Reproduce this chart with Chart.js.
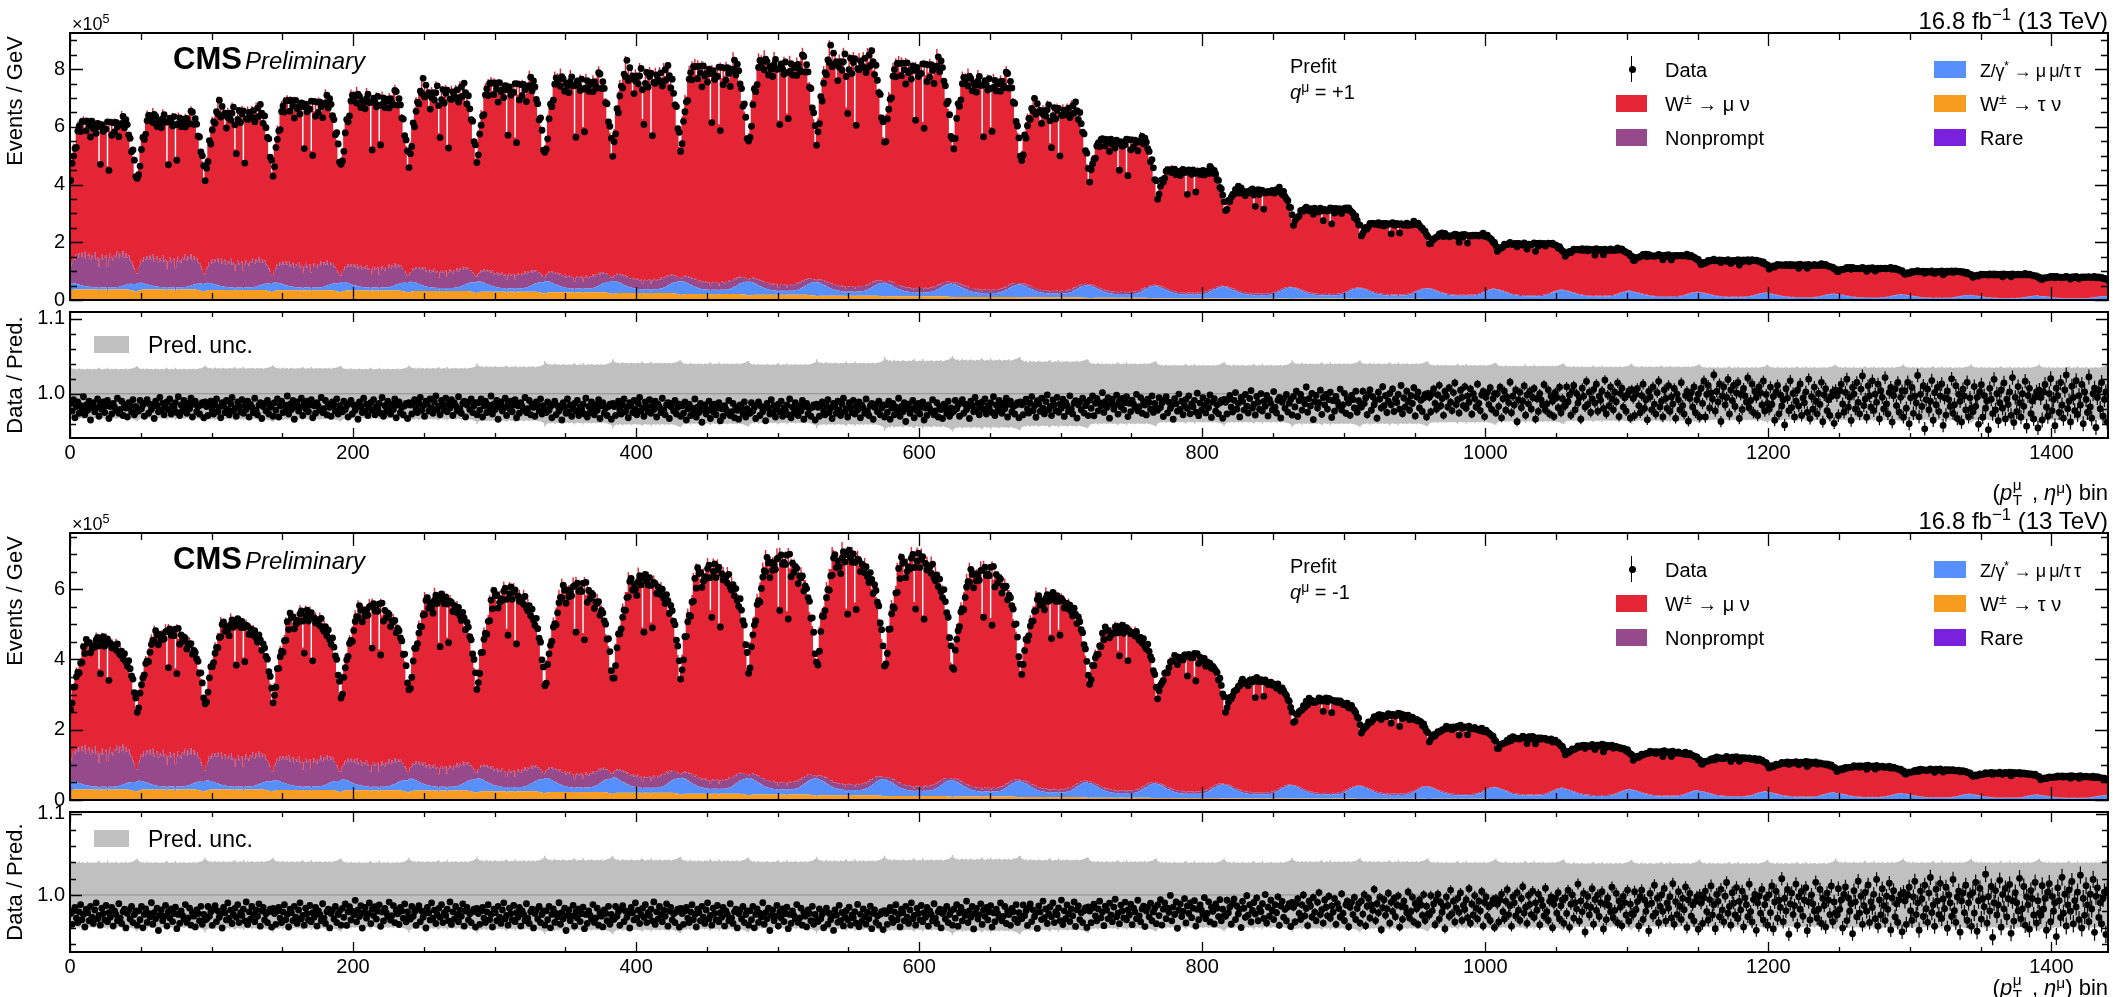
<!DOCTYPE html>
<html>
<head>
<meta charset="utf-8">
<title>Prefit unrolled (pT, eta) distributions</title>
<script src="https://cdn.jsdelivr.net/npm/chart.js@4.4.1/dist/chart.umd.min.js"></script>
<style>
  body { margin: 0; width: 2113px; height: 997px; background: #fff; position: relative; overflow: hidden;
         font-family: "Liberation Sans", Arial, Helvetica, sans-serif; }
  canvas { position: absolute; left: 0; }
  .t { position: absolute; white-space: nowrap; line-height: 1; color: #000; }
  .t sup { font-size: 0.7em; position: relative; top: -0.5em; vertical-align: baseline; line-height: 0; }
  .ud { display: inline-block; position: relative; width: 0.62em; height: 1em; vertical-align: baseline; }
  .ud .u, .ud .d { position: absolute; left: 0.04em; font-size: 0.7em; }
  .ud .u { top: -0.07em; }
  .ud .d { top: 0.9em; }
  .rot { position: absolute; white-space: nowrap; line-height: 1; transform: translate(-50%, -50%) rotate(-90deg); }
  .box { position: absolute; }
</style>
</head>
<body>
<canvas id="mainPlus" width="2113" height="325" style="top:0px"></canvas>
<canvas id="ratioPlus" width="2113" height="185" style="top:285px"></canvas>
<canvas id="mainMinus" width="2113" height="325" style="top:500px"></canvas>
<canvas id="ratioMinus" width="2113" height="199" style="top:785px"></canvas>
<script>
// 30 pT bins x 48 eta bins, unrolled pT-major into 1440 bins
const nPt = 30;
const nEta = 48;
const nBins = nPt * nEta;

const xMajor = [0, 200, 400, 600, 800, 1000, 1200, 1400];
const mainTicksPlus = [0, 2, 4, 6, 8];
const mainTicksMinus = [0, 2, 4, 6];
const ratioTicks = [1.0, 1.1];
const unityRatio = 1.0;

// eta profile inside one pT bin (relative to the plateau)
const etaShapePlus = [0.70,0.77,0.83,0.88,0.92, 0.95,0.98,1.00,1.02,1.03, 1.04,1.03,1.01,0.99,0.98, 0.99,1.00,0.99,1.00,1.01,
  0.99,0.79,0.98,1.00,0.99, 0.99,1.00,0.78,0.98,1.00, 1.01,0.99,1.00,0.99,0.98, 1.00,1.02,1.03,1.04,1.03,
  1.00,0.97,0.93,0.89,0.85, 0.80,0.75,0.69];
const etaShapeMinus = [0.56,0.63,0.69,0.74,0.78, 0.80,0.82,0.85,0.88,0.93, 0.97,1.00,1.00,0.98,0.97, 0.96,0.97,0.98,1.00,1.00,
  1.01,0.80,1.00,1.01,1.00, 0.99,1.00,0.79,0.99,0.98, 0.98,0.97,0.96,0.96,0.94, 0.93,0.93,0.92,0.91,0.89,
  0.88,0.86,0.83,0.79,0.75, 0.70,0.64,0.57];
const nonpromptEta = [0.35,0.55,0.62,0.80,0.74, 0.92,0.84,0.98,0.88,1.02, 0.90,1.08,0.86,0.97,1.04, 0.85,0.99,0.92,1.10,0.88,
  0.95,0.70,0.90,1.03,0.87, 0.94,1.00,0.72,0.89,1.06, 0.93,0.85,1.02,0.96,1.12, 0.90,1.05,0.94,1.08,0.86,
  0.98,0.84,0.90,0.74,0.70, 0.58,0.48,0.36];
const zEta = [1.00,0.98,0.94,0.89,0.84, 0.79,0.73,0.68,0.63,0.58, 0.53,0.49,0.45,0.42,0.39, 0.37,0.35,0.33,0.32,0.31,
  0.30,0.27,0.30,0.30,0.30, 0.30,0.30,0.27,0.30,0.30, 0.30,0.30,0.31,0.33,0.35, 0.38,0.42,0.47,0.53,0.59,
  0.65,0.71,0.77,0.83,0.88, 0.92,0.96,0.99];
const tauEta = [0.82,0.90,0.95,0.98,1.00, 1.00,1.00,1.00,1.00,1.00, 1.00,1.00,1.00,1.00,1.00, 1.00,1.00,1.00,1.00,1.00,
  1.00,0.85,1.00,1.00,1.00, 1.00,1.00,0.85,1.00,1.00, 1.00,1.00,1.00,1.00,1.00, 1.00,1.00,1.00,1.00,1.00,
  1.00,1.00,0.98,0.95,0.92, 0.88,0.84,0.78];
const bandEta = [1.12,1.05,1.02,1.00,1.02, 0.98,1.00,1.03,0.99,1.00, 1.01,0.98,1.00,1.02,0.99, 1.00,0.98,1.01,1.00,0.99,
  1.02,1.05,1.00,0.98,1.00, 1.01,0.99,1.05,1.00,0.98, 1.01,1.00,0.99,1.02,1.00, 0.98,1.00,1.01,0.99,1.00,
  1.02,0.98,1.00,1.01,1.02, 1.03,1.05,1.08];

// bin-to-bin scatter inside a pT bin, in units of the local spread
const residA = [0.6,-0.4,1.1,-1.3,0.2, 0.8,-0.7,0.3,-0.1,1.5, -0.9,0.4,-0.3,0.9,-1.6, 0.1,0.7,-0.5,0.0,1.2,
  -1.1,0.5,-0.2,0.8,-0.6, 0.3,1.0,-1.4,0.2,-0.8, 0.6,0.1,-0.3,1.3,-0.7, -0.2,0.9,-1.0,0.4,0.0,
  -1.2,0.7,0.3,-0.5,1.1, -0.9,0.2,-0.4];
const residB = [-0.5,0.9,-0.2,0.3,-1.2, 0.6,1.0,-0.8,0.4,-0.3, 0.1,-1.5,0.8,0.2,-0.6, 1.3,-0.4,0.5,-1.0,0.0,
  0.7,-0.3,1.1,-0.9,0.2, -0.1,0.6,-0.7,1.4,-1.1, 0.3,-0.5,0.9,0.0,-0.8, 0.5,-0.2,1.2,-1.3,0.4,
  0.8,-0.6,0.1,-0.9,0.3, 0.6,-1.4,0.7];
const residC = [0.2,-1.0,0.5,0.9,-0.3, -0.8,0.4,1.2,-0.5,0.1, -1.3,0.7,0.3,-0.6,1.0, -0.2,-0.9,0.6,1.4,-0.4,
  0.0,-1.1,0.8,0.2,-0.5, 1.1,-0.7,0.3,-0.2,0.9, -1.2,0.5,0.1,-0.6,1.3, -0.3,-0.9,0.4,0.7,-1.4,
  0.2,0.6,-0.4,1.0,-0.8, 0.1,0.5,-1.1];

// q = +1, per pT bin (x 10^5 events/GeV)
const totalPlus = [6.1,6.3,6.5,6.8,7.0, 7.2,7.4,7.6,7.8,8.0, 8.2,8.3,8.1,7.6,6.6, 5.5,4.5,3.8,3.15,2.65,
  2.25,1.95,1.75,1.55,1.37, 1.22,1.1,0.99,0.89,0.8];
const depthPlus = [1,1,1,1,1, 1,1,1,1,1, 1,1,1,1,0.9, 0.8,0.7,0.62,0.56,0.5, 0.46,0.43,0.4,0.38,0.36, 0.35,0.34,0.33,0.32,0.31];
const wigglePlus = 0.035;
const nonpromptPlus = [1.1,1.0,0.9,0.8,0.7, 0.6,0.5,0.42,0.34,0.27, 0.22,0.18,0.15,0.12,0.1, 0.08,0.07,0.06,0.05,0.045,
  0.04,0.035,0.032,0.028,0.025, 0.022,0.02,0.018,0.016,0.015];
const zPlus = [0.26,0.27,0.28,0.3,0.33, 0.36,0.39,0.42,0.45,0.47, 0.48,0.48,0.47,0.46,0.45, 0.44,0.42,0.4,0.38,0.37,
  0.36,0.33,0.3,0.26,0.23, 0.2,0.18,0.16,0.14,0.12];
const tauPlus = [0.34,0.34,0.33,0.32,0.31, 0.29,0.27,0.25,0.22,0.19, 0.16,0.13,0.11,0.09,0.075, 0.06,0.05,0.045,0.04,0.035,
  0.03,0.027,0.024,0.021,0.019, 0.017,0.015,0.013,0.012,0.011];
const rarePlus = [0.02,0.02,0.02,0.02,0.02, 0.02,0.02,0.02,0.02,0.02, 0.02,0.02,0.02,0.018,0.016, 0.014,0.012,0.01,0.009,0.008,
  0.007,0.006,0.006,0.005,0.005, 0.004,0.004,0.004,0.003,0.003];
const ratioLevelPlus = [0.981,0.982,0.981,0.982,0.981, 0.983,0.982,0.980,0.981,0.978, 0.979,0.980,0.979,0.982,0.983,
  0.985,0.984,0.986,0.988,0.990, 0.992,0.990,0.993,0.990,0.995, 0.990,0.993,0.990,0.988,0.990];
const ratioSpreadPlus = [0.010,0.010,0.010,0.010,0.010, 0.010,0.010,0.010,0.010,0.010, 0.010,0.010,0.010,0.010,0.011,
  0.011,0.012,0.013,0.014,0.015, 0.016,0.017,0.018,0.019,0.020, 0.021,0.022,0.023,0.024,0.025];
const ratioErrPlus = [0.002,0.002,0.002,0.002,0.002, 0.002,0.002,0.002,0.002,0.002, 0.002,0.002,0.002,0.002,0.0025,
  0.003,0.0035,0.004,0.0045,0.005, 0.0055,0.006,0.0065,0.007,0.0075, 0.008,0.0085,0.009,0.0095,0.010];
const bandPlus = [0.033,0.033,0.034,0.034,0.033, 0.034,0.036,0.039,0.041,0.040, 0.039,0.041,0.044,0.045,0.043,
  0.040,0.038,0.038,0.040,0.040, 0.038,0.037,0.036,0.036,0.035, 0.035,0.035,0.035,0.035,0.035];

// q = -1
const totalMinus = [4.6,4.85,5.1,5.35,5.55, 5.8,6.0,6.15,6.35,6.65, 6.95,7.05,6.95,6.6,5.85, 4.95,4.15,3.45,2.9,2.45,
  2.1,1.8,1.57,1.38,1.22, 1.08,0.97,0.87,0.78,0.68];
const depthMinus = [1,1,1,1,1, 1,1,1,1,1, 1,1,1,0.95,0.85, 0.75,0.66,0.59,0.53,0.48, 0.44,0.41,0.39,0.37,0.35, 0.34,0.33,0.32,0.31,0.3];
const wiggleMinus = 0.03;
const nonpromptMinus = [1.05,0.95,0.86,0.77,0.68, 0.58,0.48,0.4,0.33,0.26, 0.21,0.17,0.14,0.11,0.095, 0.08,0.065,0.055,0.048,0.042,
  0.037,0.033,0.03,0.026,0.023, 0.02,0.018,0.016,0.015,0.014];
const zMinus = [0.27,0.28,0.29,0.31,0.34, 0.37,0.4,0.43,0.46,0.48, 0.49,0.49,0.48,0.47,0.45, 0.43,0.41,0.39,0.37,0.36,
  0.34,0.32,0.29,0.26,0.23, 0.2,0.18,0.16,0.14,0.12];
const tauMinus = [0.28,0.28,0.28,0.27,0.26, 0.25,0.23,0.21,0.19,0.16, 0.14,0.12,0.1,0.085,0.07, 0.055,0.047,0.04,0.035,0.03,
  0.027,0.024,0.021,0.019,0.017, 0.015,0.013,0.012,0.011,0.01];
const rareMinus = [0.018,0.018,0.018,0.018,0.018, 0.018,0.018,0.018,0.018,0.018, 0.018,0.018,0.017,0.016,0.014,
  0.012,0.011,0.009,0.008,0.007, 0.006,0.006,0.005,0.005,0.004, 0.004,0.004,0.003,0.003,0.003];
const ratioLevelMinus = [0.975,0.974,0.976,0.975,0.977, 0.976,0.975,0.974,0.976,0.975, 0.974,0.973,0.975,0.976,0.977,
  0.978,0.980,0.981,0.982,0.983, 0.984,0.985,0.985,0.986,0.986, 0.987,0.987,0.988,0.988,0.988];
const ratioSpreadMinus = [0.011,0.011,0.011,0.011,0.011, 0.011,0.011,0.011,0.011,0.011, 0.011,0.011,0.011,0.011,0.012,
  0.012,0.013,0.014,0.015,0.016, 0.017,0.018,0.019,0.020,0.021, 0.022,0.023,0.024,0.025,0.026];
const ratioErrMinus = [0.0022,0.0022,0.0022,0.0022,0.0022, 0.0022,0.0022,0.0022,0.0022,0.0022, 0.0022,0.0022,0.0022,0.0022,0.0028,
  0.0033,0.0038,0.0043,0.0048,0.0053, 0.0058,0.0063,0.0068,0.0073,0.0078, 0.0083,0.0088,0.0093,0.0098,0.0105];
const bandMinus = [0.040,0.040,0.041,0.041,0.040, 0.041,0.042,0.043,0.043,0.042, 0.041,0.042,0.043,0.044,0.043,
  0.041,0.040,0.040,0.041,0.041, 0.040,0.040,0.039,0.039,0.039, 0.039,0.040,0.040,0.040,0.040];

const colW = '#e42536', colNp = '#964a8b', colZ = '#5790fc', colTau = '#f89c20', colRare = '#7a21dd';
const colBand = '#c0c0c0';
const fontFamily = "'Liberation Sans', Arial, Helvetica, sans-serif";

// unroll a (pT, eta) table into the 1440 bins of the x axis
function buildPanel(p) {
  const out = { w: [], np: [], z: [], tau: [], rare: [], data: [], ratio: [], ratioErr: [], bandHi: [], bandLo: [] };
  for (let g = 0; g < nPt; g++) {
    for (let e = 0; e < nEta; e++) {
      const wig = 1 + p.wiggle * p.depth[g] * p.resid[(g + 1) % 3][e];
      const total = p.total[g] * (1 - p.depth[g] * (1 - p.eta[e])) * wig;
      const rare = p.rare[g];
      const tau = p.tau[g] * tauEta[e];
      const z = p.z[g] * zEta[e];
      const np = p.np[g] * nonpromptEta[e];
      out.rare.push(rare);
      out.tau.push(tau);
      out.z.push(z);
      out.np.push(np);
      out.w.push(Math.max(total - rare - tau - z - np, 0));
      const r = p.level[g] + p.spread[g] * p.resid[g % 3][e];
      out.ratio.push(r);
      out.ratioErr.push(p.err[g]);
      out.data.push(total * r);
      out.bandHi.push(unityRatio + p.band[g] * bandEta[e]);
      out.bandLo.push(unityRatio - p.band[g] * bandEta[e]);
    }
  }
  return out;
}

const plus = buildPanel({ total: totalPlus, depth: depthPlus, wiggle: wigglePlus, eta: etaShapePlus, np: nonpromptPlus,
  z: zPlus, tau: tauPlus, rare: rarePlus, level: ratioLevelPlus, spread: ratioSpreadPlus, err: ratioErrPlus,
  band: bandPlus, resid: [residA, residB, residC] });
const minus = buildPanel({ total: totalMinus, depth: depthMinus, wiggle: wiggleMinus, eta: etaShapeMinus, np: nonpromptMinus,
  z: zMinus, tau: tauMinus, rare: rareMinus, level: ratioLevelMinus, spread: ratioSpreadMinus, err: ratioErrMinus,
  band: bandMinus, resid: [residC, residA, residB] });

function histPoints(vals) {
  const pts = vals.map((v, i) => ({ x: i, y: v }));
  pts.push({ x: nBins, y: vals[nBins - 1] });
  return pts;
}
function centerPoints(vals) {
  return vals.map((v, i) => ({ x: i + 0.5, y: v }));
}
function stepList(from, to, step) {
  const l = [];
  for (let v = from; v <= to + 1e-9; v += step) l.push(+v.toFixed(4));
  return l;
}

// ROOT-like frame with inward ticks on all four sides
function framePlugin(cfg) {
  return {
    id: 'rootFrame',
    afterDraw(chart) {
      const { ctx, chartArea: a } = chart;
      const xs = chart.scales.x, ys = chart.scales.y;
      ctx.save();
      ctx.strokeStyle = '#000';
      ctx.lineWidth = 1.3;
      ctx.beginPath();
      const xt = (v, len) => {
        const px = Math.round(xs.getPixelForValue(v)) + 0.5;
        ctx.moveTo(px, a.bottom); ctx.lineTo(px, a.bottom - len);
        ctx.moveTo(px, a.top); ctx.lineTo(px, a.top + len);
      };
      const yt = (v, len) => {
        if (v < ys.min || v > ys.max) return;
        const py = Math.round(ys.getPixelForValue(v)) + 0.5;
        ctx.moveTo(a.left, py); ctx.lineTo(a.left + len, py);
        ctx.moveTo(a.right, py); ctx.lineTo(a.right - len, py);
      };
      cfg.xMinor.forEach(v => xt(v, cfg.xLen[1]));
      cfg.xMajor.forEach(v => xt(v, cfg.xLen[0]));
      cfg.yMinor.forEach(v => yt(v, cfg.yLen[1]));
      cfg.yMajor.forEach(v => yt(v, cfg.yLen[0]));
      ctx.stroke();
      ctx.lineWidth = 2;
      ctx.strokeRect(a.left, a.top, a.right - a.left, a.bottom - a.top);
      ctx.restore();
    }
  };
}

const errorBars = {
  id: 'errorBars',
  afterDatasetsDraw(chart) {
    const { ctx, chartArea: a } = chart;
    const ys = chart.scales.y;
    ctx.save();
    ctx.beginPath();
    ctx.rect(a.left, a.top, a.right - a.left, a.bottom - a.top);
    ctx.clip();
    ctx.strokeStyle = '#000';
    ctx.lineWidth = 1.2;
    chart.data.datasets.forEach((ds, i) => {
      if (!ds.errors) return;
      const meta = chart.getDatasetMeta(i);
      ctx.beginPath();
      meta.data.forEach((pt, j) => {
        const v = ds.data[j].y, err = ds.errors[j];
        ctx.moveTo(pt.x, ys.getPixelForValue(v - err));
        ctx.lineTo(pt.x, ys.getPixelForValue(v + err));
      });
      ctx.stroke();
    });
    ctx.restore();
  }
};

function yScale(min, max, ticks, fmt, extra) {
  return Object.assign({
    min: min, max: max,
    afterFit: s => { s.width = 70; },
    afterBuildTicks: s => { s.ticks = ticks.map(v => ({ value: v })); },
    ticks: { font: { family: fontFamily, size: 20 }, color: '#000', padding: 5, callback: fmt },
    grid: { display: false, drawTicks: false },
    border: { display: false }
  }, extra || {});
}

function drawMain(id, p, yMax, yTicks) {
  const stackDs = (label, vals, color, fill) => ({
    label: label, data: histPoints(vals), backgroundColor: color, borderColor: color, borderWidth: 0,
    pointRadius: 0, stepped: 'after', fill: fill, stack: 'mc'
  });
  new Chart(document.getElementById(id), {
    type: 'line',
    data: {
      datasets: [
        { label: 'Data', data: centerPoints(p.data), showLine: false, pointRadius: 3.4, pointBackgroundColor: '#000',
          pointBorderWidth: 0, stack: 'data' },
        stackDs('Rare', p.rare, colRare, 'origin'),
        stackDs('W± → τν', p.tau, colTau, '-1'),
        stackDs('Z/γ* → μμ/ττ', p.z, colZ, '-1'),
        stackDs('Nonprompt', p.np, colNp, '-1'),
        stackDs('W± → μν', p.w, colW, '-1')
      ]
    },
    options: {
      responsive: false, animation: false, devicePixelRatio: 1, events: [],
      layout: { padding: { top: 33, bottom: 25, left: 0, right: 5 } },
      plugins: { legend: { display: false }, tooltip: { enabled: false } },
      scales: {
        x: { type: 'linear', min: 0, max: nBins, display: false },
        y: yScale(0, yMax, yTicks, v => String(v), { stacked: true })
      }
    },
    plugins: [framePlugin({ xMajor: xMajor, xMinor: stepList(0, nBins, 50), xLen: [13, 7],
      yMajor: yTicks, yMinor: stepList(0, yMax, 0.5), yLen: [13, 7] })]
  });
}

function drawRatio(id, p, yMin, yMax) {
  new Chart(document.getElementById(id), {
    type: 'line',
    data: {
      datasets: [
        { label: 'Data / Pred.', data: centerPoints(p.ratio), errors: p.ratioErr, showLine: false, pointRadius: 3.4,
          pointBackgroundColor: '#000', pointBorderWidth: 0 },
        { label: 'unity', data: [{ x: 0, y: unityRatio }, { x: nBins, y: unityRatio }], borderColor: '#8f8f8f',
          borderWidth: 1.2, pointRadius: 0 },
        { label: 'unc low', data: histPoints(p.bandLo), borderWidth: 0, pointRadius: 0, stepped: 'after', fill: false },
        { label: 'Pred. unc.', data: histPoints(p.bandHi), borderWidth: 0, pointRadius: 0, stepped: 'after',
          fill: '-1', backgroundColor: colBand }
      ]
    },
    options: {
      responsive: false, animation: false, devicePixelRatio: 1, events: [],
      layout: { padding: { top: 27, bottom: 0, left: 0, right: 5 } },
      plugins: { legend: { display: false }, tooltip: { enabled: false } },
      scales: {
        x: {
          type: 'linear', min: 0, max: nBins,
          afterFit: s => { s.height = 32; },
          afterBuildTicks: s => { s.ticks = xMajor.map(v => ({ value: v })); },
          ticks: { font: { family: fontFamily, size: 20 }, color: '#000', padding: 3, maxRotation: 0, autoSkip: false,
            callback: v => String(v) },
          grid: { display: false, drawTicks: false },
          border: { display: false }
        },
        y: yScale(yMin, yMax, ratioTicks, v => v.toFixed(1))
      }
    },
    plugins: [errorBars, framePlugin({ xMajor: xMajor, xMinor: stepList(0, nBins, 50), xLen: [10, 5],
      yMajor: ratioTicks, yMinor: stepList(0.9, 1.12, 0.02), yLen: [12, 6] })]
  });
}

drawMain('mainPlus', plus, 9.25, mainTicksPlus);
drawRatio('ratioPlus', plus, 0.941, 1.109);
drawMain('mainMinus', minus, 7.6, mainTicksMinus);
drawRatio('ratioMinus', minus, 0.93, 1.102);

// ---- text, legends ----
function addText(html, x, base, size, style, align) {
  const d = document.createElement('div');
  d.className = 't';
  d.innerHTML = html;
  d.style.fontSize = size + 'px';
  d.style.top = (base - 0.846 * size) + 'px';
  if (align === 'right') d.style.right = (2113 - x) + 'px';
  else d.style.left = x + 'px';
  if (style) d.style.cssText += style;
  document.body.appendChild(d);
}
function addRot(html, cx, cy, size) {
  const d = document.createElement('div');
  d.className = 'rot';
  d.innerHTML = html;
  d.style.fontSize = size + 'px';
  d.style.left = cx + 'px';
  d.style.top = cy + 'px';
  document.body.appendChild(d);
}
function addBox(x, y, w, h, color, extra) {
  const d = document.createElement('div');
  d.className = 'box';
  d.style.cssText = 'left:' + x + 'px;top:' + y + 'px;width:' + w + 'px;height:' + h + 'px;background:' + color + ';' + (extra || '');
  document.body.appendChild(d);
}

function panelText(dy, charge, ratioDy) {
  addText('×10<sup>5</sup>', 72, 30 + dy, 18);
  addText('16.8 fb<sup>−1</sup> (13 TeV)', 2108, 29 + dy, 24, '', 'right');
  addText('CMS', 173, 69 + dy, 31, 'font-weight:bold;');
  addText('Preliminary', 245, 69 + dy, 24, 'font-style:italic;');
  addText('Prefit', 1290, 73 + dy, 20);
  addText('<i>q</i><sup>μ</sup> = ' + charge, 1290, 99 + dy, 20);

  addBox(1631, 56 + dy, 1.3, 26, '#000');
  addBox(1629, 66 + dy, 7, 7, '#000', 'border-radius:50%;');
  addText('Data', 1665, 77 + dy, 20);
  addBox(1616, 95 + dy, 31, 17, colW);
  addText('W<sup>±</sup> → μ ν', 1665, 111 + dy, 20);
  addBox(1616, 129 + dy, 31, 17, colNp);
  addText('Nonprompt', 1665, 145 + dy, 20);
  addBox(1934, 61 + dy, 32, 17, colZ);
  addText('Z/γ<sup>*</sup> → μ\u2009μ/τ\u2009τ', 1980, 77 + dy, 18, 'letter-spacing:-0.3px;');
  addBox(1934, 95 + dy, 32, 17, colTau);
  addText('W<sup>±</sup> → τ ν', 1980, 111 + dy, 20);
  addBox(1934, 129 + dy, 32, 17, colRare);
  addText('Rare', 1980, 145 + dy, 20);

  addRot('Events / GeV', 15, 101 + dy, 22);
  addBox(94, 336 + ratioDy, 35, 17, colBand);
  addText('Pred. unc.', 148, 353 + ratioDy, 23);
}
panelText(0, '+1', 0);
panelText(500, '-1', 494);

addRot('Data / Pred.', 15, 375, 22);
addRot('Data / Pred.', 15, 882, 22);
const xTitle = '(<i>p</i><span class="ud"><span class="u">μ</span><span class="d">T</span></span> , <i>η</i><sup>μ</sup>) bin';
addText(xTitle, 2108, 497, 22, '', 'right');
addText(xTitle, 2108, 992, 22, '', 'right');
</script>
</body>
</html>
